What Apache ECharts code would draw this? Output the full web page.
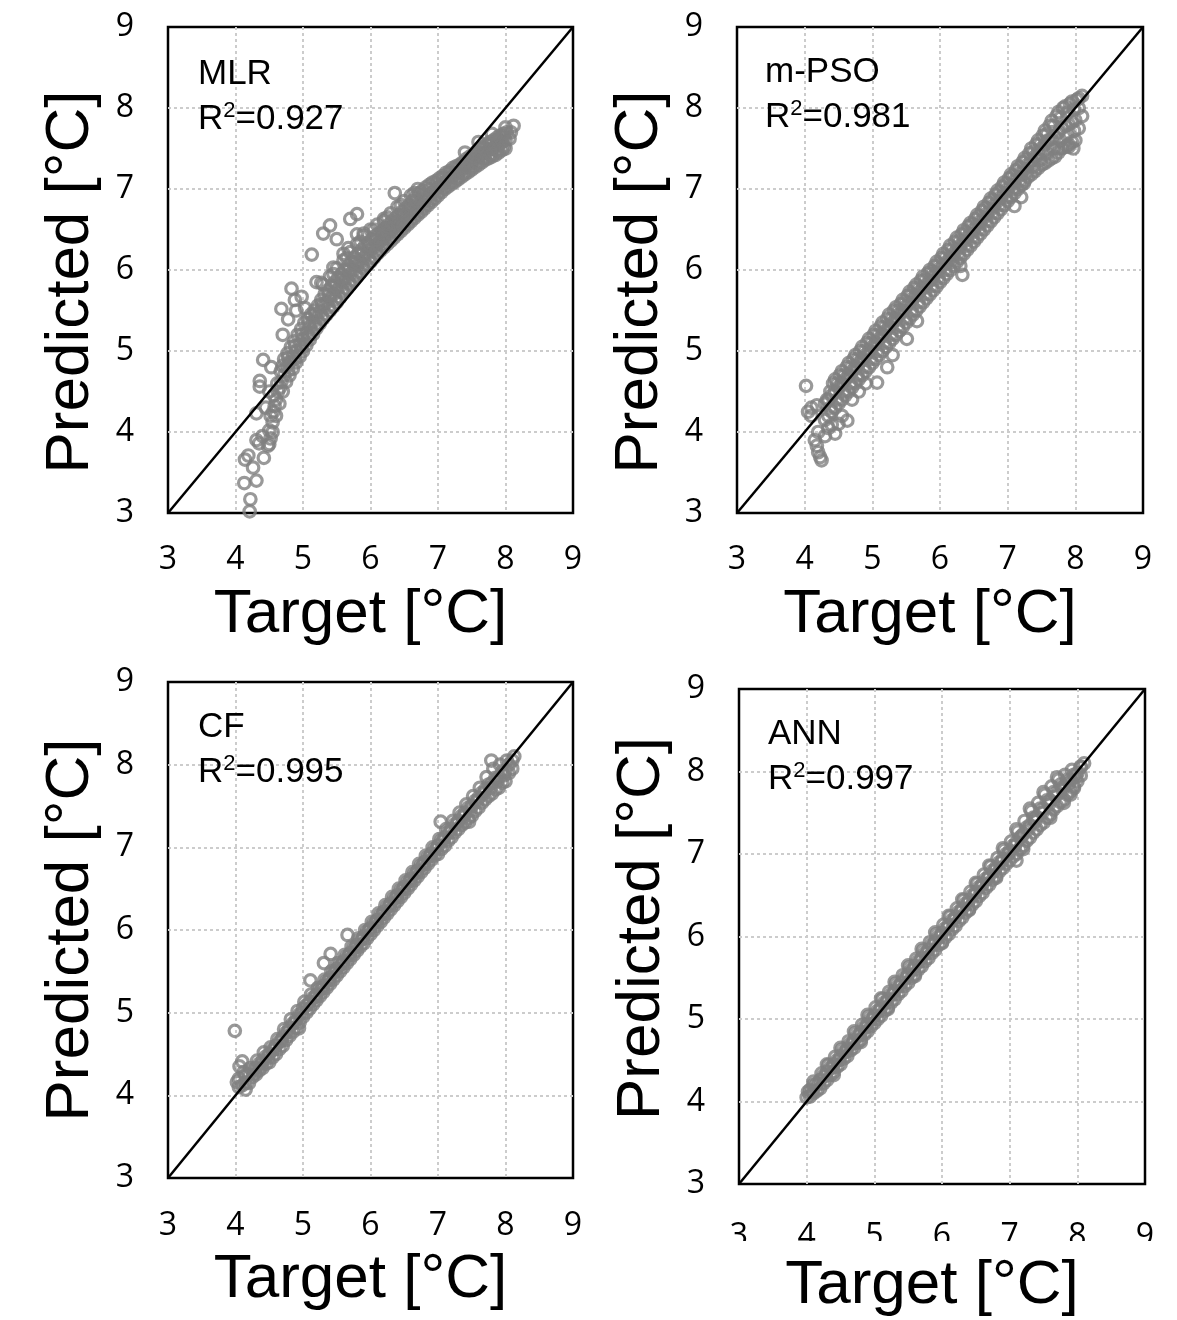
<!DOCTYPE html>
<html><head><meta charset="utf-8">
<script src="https://cdn.jsdelivr.net/npm/echarts@6/dist/echarts.min.js"></script>
<style>html,body{margin:0;padding:0;background:#fff}#c{width:1177px;height:1320px}</style>
</head><body><div id="c"></div>
<script>
// ---------- data ----------
const ticks = [3, 4, 5, 6, 7, 8, 9];
const panelNames = ['MLR', 'm-PSO', 'CF', 'ANN'];
const r2Values = ['0.927', '0.981', '0.995', '0.997'];
const xTitle = 'Target [°C]';
const yTitle = 'Predicted [°C]';
const diagonal = [[3, 3], [9, 9]];

const mlrBand = [[4.5,3.85],[4.5,4.02],[4.52,4.2],[4.55,4.0],[4.56,4.25],[4.57,4.45],[4.6,4.2],[4.6,4.4],[4.62,4.6],[4.65,4.35],[4.66,4.55],[4.67,4.75],[4.7,4.5],[4.72,4.7],[4.72,4.9],[4.8,4.7],[4.8,4.86],[4.82,5.05],[4.9,4.86],[4.9,5.0],[4.92,5.2],[5.0,5.0],[5.0,5.15],[5.02,5.35],[5.1,5.14],[5.1,5.3],[5.12,5.45],[5.2,5.28],[5.2,5.42],[5.22,5.56],[5.3,5.4],[5.3,5.55],[5.32,5.7],[5.4,5.5],[5.4,5.65],[5.42,5.8],[5.5,5.6],[5.5,5.75],[5.52,5.9],[5.6,5.72],[5.6,5.85],[5.62,6.0],[5.7,5.82],[5.7,5.95],[5.72,6.1],[5.8,5.92],[5.8,6.05],[5.82,6.2],[5.9,6.02],[5.9,6.15],[5.92,6.3],[6.0,6.1],[6.0,6.25],[6.02,6.38],[6.1,6.2],[6.1,6.32],[6.12,6.45],[6.2,6.28],[6.2,6.4],[6.22,6.52],[6.3,6.36],[6.3,6.48],[6.32,6.6],[6.4,6.44],[6.4,6.55],[6.42,6.68],[6.5,6.52],[6.5,6.63],[6.52,6.76],[6.6,6.6],[6.6,6.7],[6.62,6.85],[6.7,6.68],[6.7,6.78],[6.72,6.95],[6.8,6.76],[6.8,6.86],[6.82,7.02],[6.9,6.84],[6.9,6.95],[6.92,7.08],[7.0,6.92],[7.0,7.02],[7.02,7.13],[7.1,7.0],[7.1,7.08],[7.12,7.2],[7.2,7.06],[7.2,7.15],[7.22,7.26],[7.3,7.12],[7.3,7.2],[7.32,7.3],[7.4,7.18],[7.4,7.27],[7.42,7.37],[7.5,7.24],[7.5,7.33],[7.52,7.42],[7.6,7.3],[7.6,7.4],[7.62,7.5],[7.7,7.36],[7.7,7.45],[7.72,7.55],[7.8,7.4],[7.8,7.5],[7.82,7.6],[7.9,7.45],[7.9,7.55],[7.92,7.66],[8.0,7.5],[8.0,7.6],[8.02,7.7],[8.06,7.62],[8.08,7.7]];
const mlrBandB = [[4.52,3.92],[4.55,4.12],[4.58,4.32],[4.63,4.5],[4.68,4.62],[4.7,4.82],[4.75,4.62],[4.75,4.8],[4.77,4.97],[4.85,4.78],[4.85,4.93],[4.87,5.12],[4.95,4.93],[4.95,5.08],[4.97,5.27],[5.05,5.07],[5.05,5.22],[5.07,5.4],[5.15,5.21],[5.15,5.36],[5.17,5.5],[5.25,5.34],[5.25,5.48],[5.27,5.63],[5.35,5.45],[5.35,5.6],[5.37,5.75],[5.45,5.55],[5.45,5.7],[5.47,5.85],[5.55,5.66],[5.55,5.8],[5.57,5.95],[5.65,5.77],[5.65,5.9],[5.67,6.05],[5.75,5.87],[5.75,6.0],[5.77,6.15],[5.85,5.97],[5.85,6.1],[5.87,6.25],[5.95,6.06],[5.95,6.2],[5.97,6.34],[6.05,6.15],[6.05,6.28],[6.07,6.42],[6.15,6.24],[6.15,6.36],[6.17,6.48],[6.25,6.32],[6.25,6.44],[6.27,6.56],[6.35,6.4],[6.35,6.52],[6.37,6.64],[6.45,6.48],[6.45,6.59],[6.47,6.72],[6.55,6.56],[6.55,6.66],[6.57,6.8],[6.65,6.64],[6.65,6.74],[6.67,6.9],[6.75,6.72],[6.75,6.82],[6.77,6.98],[6.85,6.8],[6.85,6.9],[6.87,7.05],[6.95,6.88],[6.95,6.98],[6.97,7.1],[7.05,6.96],[7.05,7.05],[7.07,7.16],[7.15,7.03],[7.15,7.12],[7.17,7.22],[7.25,7.09],[7.25,7.18],[7.27,7.28],[7.35,7.15],[7.35,7.24],[7.37,7.33],[7.45,7.21],[7.45,7.3],[7.47,7.4],[7.55,7.27],[7.55,7.36],[7.57,7.46],[7.65,7.33],[7.65,7.42],[7.67,7.52],[7.75,7.38],[7.75,7.48],[7.77,7.58],[7.85,7.42],[7.85,7.52],[7.87,7.63],[7.95,7.48],[7.95,7.58],[7.97,7.68]];
const mlrBandC = [[4.78,4.76],[4.78,4.92],[4.88,4.9],[4.88,5.06],[4.98,5.04],[4.98,5.2],[5.08,5.18],[5.08,5.34],[5.18,5.31],[5.18,5.46],[5.28,5.43],[5.28,5.58],[5.38,5.54],[5.38,5.69],[5.48,5.64],[5.48,5.8],[5.58,5.75],[5.58,5.9],[5.68,5.85],[5.68,6.0],[5.78,5.95],[5.78,6.1],[5.88,6.05],[5.88,6.2],[5.98,6.14],[5.98,6.3],[6.08,6.23],[6.08,6.37],[6.18,6.31],[6.18,6.45],[6.28,6.39],[6.28,6.52],[6.38,6.47],[6.38,6.6],[6.48,6.55],[6.48,6.68],[6.58,6.63],[6.58,6.76],[6.68,6.71],[6.68,6.85],[6.78,6.79],[6.78,6.93],[6.88,6.87],[6.88,7.0],[6.98,6.95],[6.98,7.06],[7.08,7.02],[7.08,7.13],[7.18,7.09],[7.18,7.19],[7.28,7.14],[7.28,7.24],[7.38,7.2],[7.38,7.31],[7.48,7.27],[7.48,7.37],[7.58,7.33],[7.58,7.44],[7.68,7.39],[7.68,7.5],[7.78,7.43],[7.78,7.55],[7.88,7.48],[7.88,7.6],[7.98,7.53],[7.98,7.65]];
const mlrUpper = [[5.3,5.82],[5.4,5.92],[5.45,5.95],[5.5,6.02],[5.6,6.12],[5.65,6.15],[5.7,6.22],[5.8,6.32],[5.85,6.35],[5.9,6.42],[6.0,6.5],[6.05,6.5],[6.1,6.56],[6.2,6.63],[6.25,6.65],[6.3,6.7],[6.4,6.78],[6.45,6.8],[6.5,6.85],[6.6,6.92],[6.65,6.95],[6.7,7.0],[7.4,7.45],[7.6,7.58],[7.8,7.68],[8.0,7.76]];
const mlrOutliers = [[4.21,3.02],[4.22,3.17],[4.13,3.37],[4.31,3.4],[4.26,3.56],[4.14,3.66],[4.19,3.71],[4.42,3.68],[4.48,3.83],[4.31,3.9],[4.35,3.86],[4.4,3.95],[4.31,4.23],[4.36,4.56],[4.36,4.63],[4.41,4.89],[4.53,4.8],[4.45,4.3],[4.5,4.5],[4.68,5.52],[4.83,5.77],[4.88,5.63],[4.98,5.67],[5.03,5.53],[4.78,5.39],[5.13,6.19],[5.27,5.84],[5.3,6.45],[5.4,6.55],[5.5,6.38],[5.45,6.03],[5.7,6.63],[5.8,6.69],[5.67,6.27],[5.8,6.44],[6.36,6.95],[8.12,7.78],[4.7,5.2],[4.9,5.5],[5.2,5.85],[5.6,6.2],[5.9,6.45],[6.2,6.6]];

const psoBand = [[4.3,4.15],[4.3,4.35],[4.4,4.25],[4.4,4.45],[4.42,4.6],[4.5,4.35],[4.5,4.55],[4.52,4.7],[4.6,4.45],[4.6,4.65],[4.62,4.8],[4.7,4.55],[4.7,4.75],[4.72,4.9],[4.8,4.65],[4.8,4.85],[4.82,5.0],[4.9,4.75],[4.9,4.95],[4.92,5.1],[5.0,4.85],[5.0,5.05],[5.02,5.2],[5.1,4.95],[5.1,5.15],[5.12,5.3],[5.2,5.05],[5.2,5.25],[5.22,5.4],[5.3,5.15],[5.3,5.35],[5.32,5.5],[5.4,5.25],[5.4,5.45],[5.42,5.58],[5.5,5.35],[5.5,5.55],[5.52,5.68],[5.6,5.45],[5.6,5.65],[5.62,5.78],[5.7,5.55],[5.7,5.73],[5.72,5.87],[5.8,5.65],[5.8,5.82],[5.82,5.96],[5.9,5.75],[5.9,5.92],[5.92,6.05],[6.0,5.85],[6.0,6.02],[6.02,6.15],[6.1,5.95],[6.1,6.1],[6.12,6.25],[6.2,6.05],[6.2,6.2],[6.22,6.35],[6.3,6.15],[6.3,6.3],[6.32,6.44],[6.4,6.25],[6.4,6.4],[6.42,6.54],[6.5,6.35],[6.5,6.5],[6.52,6.63],[6.6,6.45],[6.6,6.6],[6.62,6.73],[6.7,6.55],[6.7,6.7],[6.72,6.83],[6.8,6.65],[6.8,6.8],[6.82,6.93],[6.9,6.75],[6.9,6.9],[6.92,7.03],[7.0,6.85],[7.0,7.0],[7.02,7.13],[7.1,6.95],[7.1,7.1],[7.12,7.23],[7.2,7.05],[7.2,7.2],[7.22,7.33],[7.3,7.15],[7.3,7.3],[7.32,7.44],[7.4,7.22],[7.4,7.4],[7.42,7.55],[7.5,7.3],[7.5,7.5],[7.52,7.66],[7.6,7.35],[7.6,7.6],[7.62,7.78],[7.7,7.4],[7.7,7.65],[7.72,7.9],[7.8,7.5],[7.8,7.75],[7.82,8.0],[7.9,7.55],[7.9,7.8],[7.92,8.05],[8.0,7.6],[8.0,7.85],[8.02,8.1],[8.1,7.9],[8.1,8.15]];
const psoBandB = [[4.35,4.2],[4.35,4.4],[4.45,4.3],[4.45,4.5],[4.45,4.65],[4.55,4.4],[4.55,4.6],[4.55,4.75],[4.65,4.5],[4.65,4.7],[4.65,4.85],[4.75,4.6],[4.75,4.8],[4.75,4.95],[4.85,4.7],[4.85,4.9],[4.85,5.05],[4.95,4.8],[4.95,5.0],[4.95,5.15],[5.05,4.9],[5.05,5.1],[5.05,5.25],[5.15,5.0],[5.15,5.2],[5.15,5.35],[5.25,5.1],[5.25,5.3],[5.25,5.45],[5.35,5.2],[5.35,5.4],[5.35,5.54],[5.45,5.3],[5.45,5.5],[5.45,5.63],[5.55,5.4],[5.55,5.6],[5.55,5.73],[5.65,5.5],[5.65,5.69],[5.65,5.82],[5.75,5.6],[5.75,5.78],[5.75,5.92],[5.85,5.7],[5.85,5.87],[5.85,6.0],[5.95,5.8],[5.95,5.97],[5.95,6.1],[6.05,5.9],[6.05,6.06],[6.05,6.2],[6.15,6.0],[6.15,6.15],[6.15,6.3],[6.25,6.1],[6.25,6.25],[6.25,6.4],[6.35,6.2],[6.35,6.35],[6.35,6.49],[6.45,6.3],[6.45,6.45],[6.45,6.58],[6.55,6.4],[6.55,6.55],[6.55,6.68],[6.65,6.5],[6.65,6.65],[6.65,6.78],[6.75,6.6],[6.75,6.75],[6.75,6.88],[6.85,6.7],[6.85,6.85],[6.85,6.98],[6.95,6.8],[6.95,6.95],[6.95,7.08],[7.05,6.9],[7.05,7.05],[7.05,7.18],[7.15,7.0],[7.15,7.15],[7.15,7.28],[7.25,7.1],[7.25,7.25],[7.25,7.38],[7.35,7.18],[7.35,7.35],[7.35,7.5],[7.45,7.26],[7.45,7.45],[7.45,7.6],[7.55,7.32],[7.55,7.55],[7.55,7.72],[7.65,7.38],[7.65,7.62],[7.65,7.84],[7.75,7.45],[7.75,7.7],[7.75,7.95],[7.85,7.52],[7.85,7.78],[7.85,8.02],[7.95,7.58],[7.95,7.82],[7.95,8.08],[8.05,7.75],[8.05,8.0],[8.05,8.12]];
const psoBandC = [[4.38,4.3],[4.38,4.5],[4.48,4.4],[4.48,4.6],[4.58,4.5],[4.58,4.7],[4.68,4.6],[4.68,4.8],[4.78,4.7],[4.78,4.9],[4.88,4.8],[4.88,5.0],[4.98,4.9],[4.98,5.1],[5.08,5.0],[5.08,5.2],[5.18,5.1],[5.18,5.3],[5.28,5.2],[5.28,5.4],[5.38,5.3],[5.38,5.5],[5.48,5.4],[5.48,5.6],[5.58,5.5],[5.58,5.7],[5.68,5.6],[5.68,5.78],[5.78,5.7],[5.78,5.88],[5.88,5.8],[5.88,5.97],[5.98,5.9],[5.98,6.07],[6.08,6.0],[6.08,6.16],[6.18,6.1],[6.18,6.26],[6.28,6.2],[6.28,6.36],[6.38,6.3],[6.38,6.46],[6.48,6.4],[6.48,6.56],[6.58,6.5],[6.58,6.66],[6.68,6.6],[6.68,6.76],[6.78,6.7],[6.78,6.86],[6.88,6.8],[6.88,6.96],[6.98,6.9],[6.98,7.06],[7.08,7.0],[7.08,7.16],[7.18,7.1],[7.18,7.26],[7.28,7.2],[7.28,7.36],[7.38,7.28],[7.38,7.46],[7.48,7.36],[7.48,7.56],[7.58,7.44],[7.58,7.68],[7.68,7.5],[7.68,7.78],[7.78,7.6],[7.78,7.88],[7.88,7.66],[7.88,7.94],[7.98,7.72],[7.98,7.98]];
const psoOutliers = [[4.02,4.57],[4.05,4.25],[4.1,4.2],[4.15,3.9],[4.18,3.83],[4.2,3.75],[4.23,3.69],[4.25,3.65],[4.2,4.0],[4.3,3.95],[4.35,4.05],[4.4,4.09],[4.45,3.98],[4.5,4.1],[4.55,4.2],[4.63,4.14],[4.1,4.3],[4.18,4.33],[4.33,4.4],[4.7,4.4],[4.8,4.5],[4.9,4.6],[5.07,4.61],[5.22,4.8],[5.3,4.95],[5.51,5.15],[5.66,5.37],[6.33,5.94],[6.3,6.05],[7.1,6.79],[7.24,7.07],[7.2,6.9],[7.97,7.5],[7.9,7.52],[7.75,7.5]];

const cfBand = [[4.05,4.1],[4.05,4.2],[4.06,4.35],[4.1,4.12],[4.12,4.28],[4.2,4.15],[4.2,4.25],[4.22,4.33],[4.3,4.25],[4.3,4.33],[4.32,4.42],[4.4,4.33],[4.4,4.42],[4.42,4.52],[4.5,4.4],[4.5,4.5],[4.52,4.58],[4.6,4.5],[4.6,4.6],[4.62,4.68],[4.7,4.6],[4.7,4.7],[4.72,4.8],[4.8,4.72],[4.8,4.82],[4.82,4.92],[4.9,4.82],[4.9,4.92],[4.92,5.02],[5.0,4.95],[5.0,5.05],[5.02,5.13],[5.1,5.05],[5.1,5.13],[5.12,5.22],[5.2,5.15],[5.2,5.22],[5.22,5.3],[5.3,5.25],[5.3,5.32],[5.32,5.4],[5.4,5.35],[5.4,5.42],[5.42,5.5],[5.5,5.45],[5.5,5.53],[5.52,5.6],[5.6,5.55],[5.6,5.62],[5.62,5.7],[5.7,5.65],[5.7,5.72],[5.72,5.8],[5.8,5.75],[5.8,5.82],[5.82,5.9],[5.9,5.84],[5.9,5.92],[5.92,6.0],[6.0,5.95],[6.0,6.02],[6.02,6.1],[6.1,6.05],[6.1,6.12],[6.12,6.2],[6.2,6.15],[6.2,6.22],[6.22,6.3],[6.3,6.25],[6.3,6.32],[6.32,6.4],[6.4,6.35],[6.4,6.42],[6.42,6.5],[6.5,6.45],[6.5,6.52],[6.52,6.6],[6.6,6.55],[6.6,6.62],[6.62,6.7],[6.7,6.65],[6.7,6.72],[6.72,6.8],[6.8,6.75],[6.8,6.82],[6.82,6.9],[6.9,6.85],[6.9,6.92],[6.92,7.0],[7.0,6.92],[7.0,7.02],[7.02,7.1],[7.1,7.02],[7.1,7.12],[7.12,7.22],[7.2,7.12],[7.2,7.22],[7.22,7.32],[7.3,7.22],[7.3,7.32],[7.32,7.42],[7.4,7.3],[7.4,7.42],[7.42,7.52],[7.5,7.38],[7.5,7.5],[7.52,7.62],[7.6,7.48],[7.6,7.6],[7.62,7.72],[7.7,7.58],[7.7,7.7],[7.72,7.85],[7.8,7.65],[7.8,7.78],[7.82,7.95],[7.9,7.72],[7.9,7.85],[7.92,8.0],[8.0,7.8],[8.0,7.92],[8.02,8.05],[8.1,7.95],[8.1,8.05]];
const cfBandB = [[4.15,4.15],[4.15,4.25],[4.25,4.22],[4.25,4.3],[4.35,4.3],[4.35,4.38],[4.45,4.38],[4.45,4.47],[4.55,4.46],[4.55,4.55],[4.65,4.56],[4.65,4.65],[4.75,4.67],[4.75,4.76],[4.85,4.77],[4.85,4.87],[4.95,4.88],[4.95,4.98],[5.05,5.0],[5.05,5.09],[5.15,5.1],[5.15,5.18],[5.25,5.2],[5.25,5.28],[5.35,5.3],[5.35,5.38],[5.45,5.4],[5.45,5.48],[5.55,5.5],[5.55,5.58],[5.65,5.6],[5.65,5.68],[5.75,5.7],[5.75,5.78],[5.85,5.8],[5.85,5.88],[5.95,5.9],[5.95,5.98],[6.05,6.0],[6.05,6.08],[6.15,6.1],[6.15,6.18],[6.25,6.2],[6.25,6.28],[6.35,6.3],[6.35,6.38],[6.45,6.4],[6.45,6.48],[6.55,6.5],[6.55,6.58],[6.65,6.6],[6.65,6.68],[6.75,6.7],[6.75,6.78],[6.85,6.8],[6.85,6.88],[6.95,6.9],[6.95,6.98],[7.05,6.98],[7.05,7.08],[7.15,7.08],[7.15,7.18],[7.25,7.18],[7.25,7.28],[7.35,7.27],[7.35,7.38],[7.45,7.35],[7.45,7.48],[7.55,7.44],[7.55,7.56],[7.65,7.54],[7.65,7.66],[7.75,7.62],[7.75,7.76],[7.85,7.7],[7.85,7.84],[7.95,7.78],[7.95,7.92],[8.05,7.9],[8.05,8.0]];
const cfBandC = [[4.28,4.27],[4.38,4.36],[4.48,4.45],[4.58,4.56],[4.68,4.66],[4.78,4.77],[4.88,4.88],[4.98,4.99],[5.08,5.1],[5.18,5.19],[5.28,5.29],[5.38,5.39],[5.48,5.5],[5.58,5.59],[5.68,5.69],[5.78,5.79],[5.88,5.89],[5.98,6.0],[6.08,6.09],[6.18,6.19],[6.28,6.29],[6.38,6.39],[6.48,6.49],[6.58,6.59],[6.68,6.69],[6.78,6.79],[6.88,6.89],[6.98,6.98],[7.08,7.08],[7.18,7.18],[7.28,7.28],[7.38,7.37],[7.48,7.45],[7.58,7.55],[7.68,7.65],[7.78,7.72],[7.88,7.8],[7.98,7.87]];
const cfOutliers = [[3.99,4.78],[4.1,4.41],[4.02,4.16],[4.15,4.07],[4.94,4.81],[5.11,5.39],[5.31,5.6],[5.41,5.71],[5.66,5.94],[7.04,7.31],[7.46,7.31],[7.79,8.05],[8.13,8.1]];

const annBand = [[4.0,4.05],[4.02,4.12],[4.1,4.1],[4.1,4.2],[4.2,4.16],[4.2,4.26],[4.22,4.34],[4.3,4.26],[4.3,4.36],[4.32,4.44],[4.4,4.36],[4.4,4.45],[4.42,4.54],[4.5,4.45],[4.5,4.55],[4.52,4.63],[4.6,4.55],[4.6,4.64],[4.62,4.73],[4.7,4.65],[4.7,4.74],[4.72,4.83],[4.8,4.75],[4.8,4.84],[4.82,4.93],[4.9,4.85],[4.9,4.94],[4.92,5.03],[5.0,4.95],[5.0,5.04],[5.02,5.14],[5.1,5.04],[5.1,5.14],[5.12,5.24],[5.2,5.14],[5.2,5.24],[5.22,5.33],[5.3,5.24],[5.3,5.34],[5.32,5.43],[5.4,5.34],[5.4,5.44],[5.42,5.53],[5.5,5.44],[5.5,5.54],[5.52,5.63],[5.6,5.54],[5.6,5.64],[5.62,5.73],[5.7,5.64],[5.7,5.74],[5.72,5.83],[5.8,5.74],[5.8,5.84],[5.82,5.93],[5.9,5.84],[5.9,5.94],[5.92,6.03],[6.0,5.93],[6.0,6.04],[6.02,6.14],[6.1,6.03],[6.1,6.14],[6.12,6.24],[6.2,6.13],[6.2,6.24],[6.22,6.34],[6.3,6.23],[6.3,6.34],[6.32,6.44],[6.4,6.33],[6.4,6.44],[6.42,6.54],[6.5,6.43],[6.5,6.54],[6.52,6.64],[6.6,6.53],[6.6,6.64],[6.62,6.75],[6.7,6.63],[6.7,6.74],[6.72,6.85],[6.8,6.73],[6.8,6.84],[6.82,6.95],[6.9,6.83],[6.9,6.94],[6.92,7.05],[7.0,6.92],[7.0,7.04],[7.02,7.15],[7.1,7.0],[7.1,7.14],[7.12,7.27],[7.2,7.1],[7.2,7.24],[7.22,7.4],[7.3,7.2],[7.3,7.35],[7.32,7.52],[7.4,7.3],[7.4,7.45],[7.42,7.62],[7.5,7.38],[7.5,7.55],[7.52,7.72],[7.6,7.48],[7.6,7.65],[7.62,7.82],[7.7,7.58],[7.7,7.75],[7.72,7.9],[7.8,7.66],[7.8,7.82],[7.82,7.96],[7.9,7.76],[7.9,7.9],[7.92,8.02],[8.0,7.88],[8.0,7.98],[8.05,8.06],[8.1,8.1]];
const annBandB = [[4.05,4.06],[4.05,4.14],[4.15,4.13],[4.15,4.22],[4.25,4.22],[4.25,4.31],[4.35,4.32],[4.35,4.41],[4.45,4.42],[4.45,4.5],[4.55,4.52],[4.55,4.6],[4.65,4.62],[4.65,4.7],[4.75,4.71],[4.75,4.8],[4.85,4.81],[4.85,4.9],[4.95,4.91],[4.95,5.0],[5.05,5.0],[5.05,5.1],[5.15,5.1],[5.15,5.2],[5.25,5.2],[5.25,5.3],[5.35,5.3],[5.35,5.4],[5.45,5.4],[5.45,5.5],[5.55,5.5],[5.55,5.6],[5.65,5.6],[5.65,5.7],[5.75,5.7],[5.75,5.8],[5.85,5.8],[5.85,5.9],[5.95,5.9],[5.95,6.0],[6.05,5.99],[6.05,6.1],[6.15,6.09],[6.15,6.2],[6.25,6.19],[6.25,6.3],[6.35,6.29],[6.35,6.4],[6.45,6.39],[6.45,6.5],[6.55,6.49],[6.55,6.6],[6.65,6.59],[6.65,6.7],[6.75,6.69],[6.75,6.8],[6.85,6.79],[6.85,6.9],[6.95,6.88],[6.95,7.0],[7.05,6.97],[7.05,7.1],[7.15,7.06],[7.15,7.2],[7.25,7.16],[7.25,7.32],[7.35,7.26],[7.35,7.44],[7.45,7.35],[7.45,7.55],[7.55,7.44],[7.55,7.65],[7.65,7.54],[7.65,7.75],[7.75,7.63],[7.75,7.84],[7.85,7.72],[7.85,7.9],[7.95,7.82],[7.95,7.96],[8.05,7.95],[8.05,8.05]];
const annBandC = [[4.08,4.12],[4.18,4.21],[4.28,4.31],[4.38,4.41],[4.48,4.5],[4.58,4.6],[4.68,4.7],[4.78,4.8],[4.88,4.9],[4.98,5.0],[5.08,5.1],[5.18,5.2],[5.28,5.3],[5.38,5.4],[5.48,5.5],[5.58,5.6],[5.68,5.7],[5.78,5.8],[5.88,5.9],[5.98,6.0],[6.08,6.1],[6.18,6.2],[6.28,6.3],[6.38,6.4],[6.48,6.5],[6.58,6.6],[6.68,6.7],[6.78,6.8],[6.88,6.9],[6.98,7.0],[7.08,7.1],[7.18,7.22],[7.28,7.3],[7.38,7.4],[7.48,7.5],[7.58,7.6],[7.68,7.7],[7.78,7.78],[7.88,7.86],[7.98,7.94]];
const annEdge = [[4.1,4.24],[4.3,4.45],[4.5,4.65],[4.7,4.85],[4.9,5.05],[5.1,5.25],[5.3,5.45],[5.5,5.65],[5.7,5.85],[5.9,6.05],[6.1,6.25],[6.3,6.45],[6.5,6.65],[6.7,6.86],[6.9,7.07],[7.1,7.3],[7.3,7.55],[7.5,7.75],[7.7,7.93],[4.4,4.32],[4.8,4.72],[5.2,5.12],[5.6,5.52],[6.0,5.92],[6.4,6.32],[6.8,6.71],[7.2,7.06],[7.6,7.44],[7.9,7.72]];
const annOutliers = [[7.8,7.62],[7.95,7.8],[7.1,6.92]];

// ---------- layout / style ----------
const panelData = [
  mlrBand.concat(mlrBandB, mlrBandC, mlrUpper, mlrOutliers),
  psoBand.concat(psoBandB, psoBandC, psoOutliers),
  cfBand.concat(cfBandB, cfBandC, cfOutliers),
  annBand.concat(annBandB, annBandC, annEdge, annOutliers)
];
const boxes = [
  {l:168, t:27, w:405, h:486},
  {l:737, t:27, w:406, h:486},
  {l:168, t:682, w:405, h:496},
  {l:739, t:689, w:406, h:495}
];
const labelPos = [[198, 52], [765, 50], [198, 705], [768, 712]];
const yPad = [[0,24,0,0], [0,24,0,0], [0,0,0,0], [0,0,0,16]];
const xMargin = [31, 31, 32, 37];
const FT = 'Liberation Sans, Arial, sans-serif';
const FL = 'Open Sans, Noto Sans, sans-serif';
const gridLine = {show:true, showMinLine:false, showMaxLine:false, lineStyle:{color:'#cccccc', type:[3,3], width:2}};

const option = {
  backgroundColor: '#fff',
  animation: false,
  grid: boxes.map(b => ({left:b.l, top:b.t, width:b.w, height:b.h, show:true, borderColor:'#000', borderWidth:2.5, backgroundColor:'transparent'})),
  xAxis: boxes.map((b, i) => ({
    gridIndex:i, type:'value', min:ticks[0], max:ticks[ticks.length-1], interval:1,
    axisLine:{show:false}, axisTick:{show:false},
    axisLabel:{fontSize:32, color:'#000', fontFamily:FL, margin:xMargin[i]},
    splitLine:gridLine,
    name:xTitle, nameLocation:'middle', nameGap:71,
    nameTextStyle:{fontSize:62, fontFamily:FT, color:'#000', padding:[0,20,0,0]}
  })),
  yAxis: boxes.map((b, i) => ({
    gridIndex:i, type:'value', min:ticks[0], max:ticks[ticks.length-1], interval:1,
    axisLine:{show:false}, axisTick:{show:false},
    axisLabel:{fontSize:32, color:'#000', fontFamily:FL, margin:34},
    splitLine:gridLine,
    name:yTitle, nameLocation:'middle', nameGap:66,
    nameTextStyle:{fontSize:62, fontFamily:FT, color:'#000', padding:yPad[i]}
  })),
  title: panelNames.map((n, i) => ({
    text: n + '\n{r|R}{s|2}{r|=' + r2Values[i] + '}',
    left: labelPos[i][0], top: labelPos[i][1], padding:0,
    textStyle:{fontSize:35, fontWeight:'normal', fontFamily:FT, color:'#000', lineHeight:45,
      rich:{r:{fontSize:35, fontFamily:FT, color:'#000', lineHeight:45},
            s:{fontSize:22, fontFamily:FT, color:'#000', padding:[0,0,18,0]}}}
  })),
  series: [].concat(
    panelData.map((d, i) => ({
      type:'scatter', xAxisIndex:i, yAxisIndex:i, data:d, symbol:'circle', symbolSize:11.5,
      itemStyle:{color:'rgba(0,0,0,0)', borderColor:'#808080', borderWidth:3.2}, z:2
    })),
    boxes.map((b, i) => ({
      type:'line', xAxisIndex:i, yAxisIndex:i, data:diagonal, symbol:'none',
      lineStyle:{color:'#000', width:2.5}, z:5
    }))
  ),
  graphic: [{type:'rect', left:712, top:1241, shape:{width:460, height:13}, style:{fill:'#fff'}, z:100}]
};
const chart = echarts.init(document.getElementById('c'), null, {renderer:'canvas'});
chart.setOption(option);
</script></body></html>
